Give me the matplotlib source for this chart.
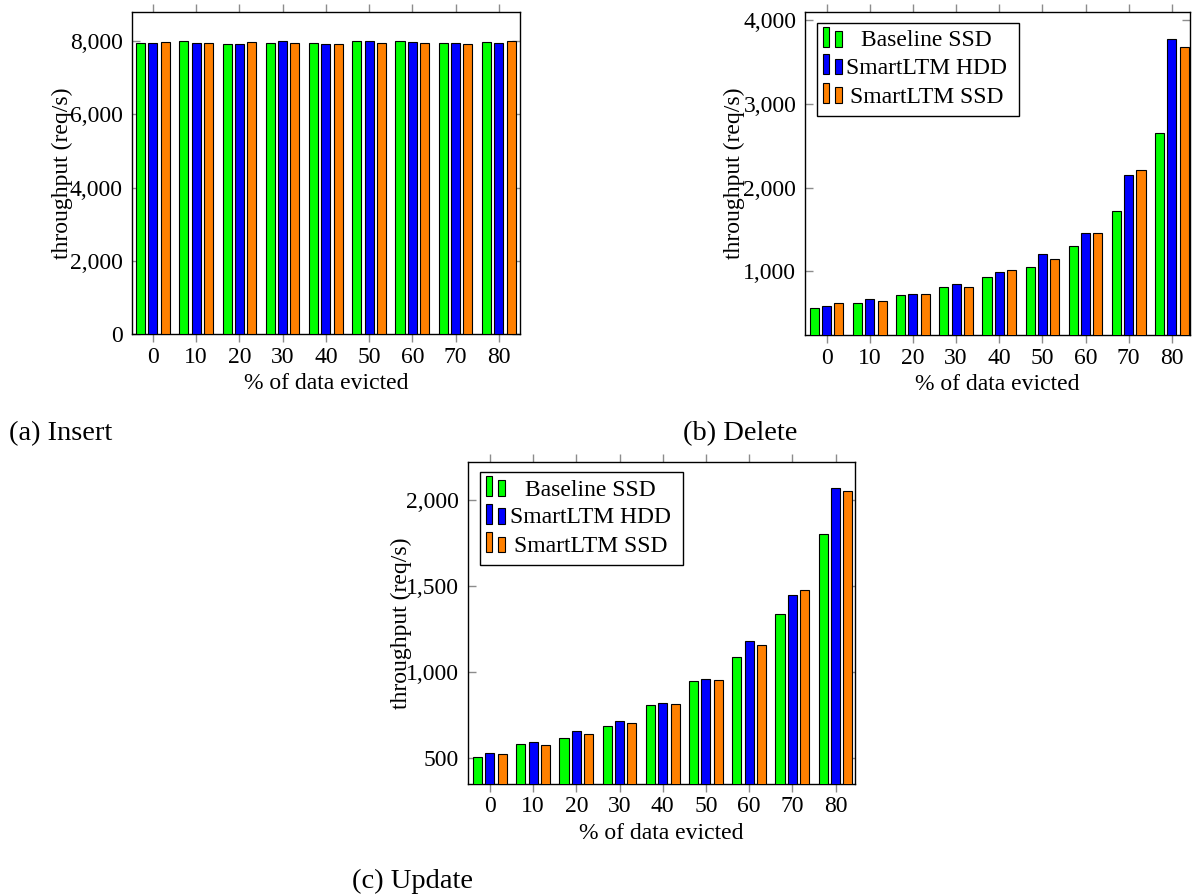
"""Throughput vs % of data evicted for insert / delete / update (three bar panels)."""

import matplotlib
matplotlib.use("Agg")
import matplotlib.pyplot as plt
from matplotlib.patches import Rectangle
from matplotlib.ticker import FuncFormatter
import numpy as np

plt.rcParams["font.family"] = ["Liberation Serif", "DejaVu Serif"]

# ─── Data ────────────────────────────────────────────────────────────────────

evicted = [0, 10, 20, 30, 40, 50, 60, 70, 80]
series = ["Baseline SSD", "SmartLTM HDD", "SmartLTM SSD"]
colors = ["#00ff00", "#0000ff", "#ff8000"]

insert_baseline_ssd = [7936, 8000, 7918, 7936, 7945, 7990, 8000, 7936, 7982]
insert_smartltm_hdd = [7936, 7936, 7927, 8000, 7918, 7990, 7982, 7936, 7936]
insert_smartltm_ssd = [7964, 7936, 7973, 7945, 7927, 7936, 7955, 7918, 8009]

delete_baseline_ssd = [558, 622, 713, 809, 932, 1056, 1298, 1716, 2647]
delete_smartltm_hdd = [586, 670, 729, 845, 988, 1211, 1454, 2146, 3770]
delete_smartltm_ssd = [618, 650, 733, 817, 1012, 1143, 1462, 2214, 3678]

update_baseline_ssd = [506, 581, 616, 688, 810, 947, 1087, 1340, 1803]
update_smartltm_hdd = [531, 597, 661, 715, 819, 961, 1179, 1450, 2068]
update_smartltm_ssd = [527, 575, 639, 707, 816, 953, 1160, 1479, 2050]

W, H = 1193, 894
BAR_W = 2.1
SHIFT = 2.85
TICK_GRAY = "#8c8c8c"
FS = 17


def px_rect(l, t, r, b):
    return [l / W, 1 - b / H, (r - l) / W, (b - t) / H]


def draw_legend(ax):
    """pgfplots-style ybar legend: two small bars per entry, centred labels."""
    ax_h = ax.get_position().height * H
    ax.add_patch(Rectangle((0.030, 0.679), 0.525, 0.289, transform=ax.transAxes,
                           facecolor="white", edgecolor="black", lw=1.0, zorder=5))
    for yc, label, c in zip([0.912, 0.826, 0.737], series, colors):
        ax.add_patch(Rectangle((0.0455, yc - 6 / ax_h), 0.0156, 20 / ax_h,
                               transform=ax.transAxes, facecolor=c,
                               edgecolor="black", lw=0.8, zorder=6))
        ax.add_patch(Rectangle((0.0767, yc - 6 / ax_h), 0.0174, 15.7 / ax_h,
                               transform=ax.transAxes, facecolor=c,
                               edgecolor="black", lw=0.8, zorder=6))
        ax.text(0.316, yc, label, transform=ax.transAxes, ha="center",
                va="center", fontsize=FS, zorder=7)


def bar_panel(ax, values, ylim, yticks, xlim, ylab_x, legend=False):
    x = np.array(evicted, dtype=float)
    for k, (vals, c) in enumerate(zip(values, colors)):
        ax.bar(x + (k - 1) * SHIFT, vals, width=BAR_W, color=c,
               edgecolor="black", linewidth=0.8, zorder=3)
    ax.set_xlim(*xlim)
    ax.set_ylim(*ylim)
    ax.set_xticks(evicted)
    ax.set_yticks(yticks)
    ax.yaxis.set_major_formatter(FuncFormatter(lambda v, _: f"{v:,.0f}"))
    ax.tick_params(axis="x", direction="out", top=True, length=5.5, width=1.0,
                   color=TICK_GRAY, labelsize=FS, pad=3.5)
    ax.tick_params(axis="y", direction="in", right=True, length=5.5, width=1.0,
                   color=TICK_GRAY, labelsize=FS, pad=6.5)
    for s in ax.spines.values():
        s.set_linewidth(1.0)
    ax.set_xlabel("% of data evicted", fontsize=FS, va="baseline")
    ax.xaxis.set_label_coords(0.5, -55 / (ax.get_position().height * H))
    ax.set_ylabel("throughput (req/s)", fontsize=FS, va="center")
    ax.yaxis.set_label_coords(ylab_x, 0.5)
    if legend:
        draw_legend(ax)


fig = plt.figure(figsize=(W / 100, H / 100), dpi=100)

ax_a = fig.add_axes(px_rect(131.7, 12, 520, 334.3))
bar_panel(ax_a, [insert_baseline_ssd, insert_smartltm_hdd, insert_smartltm_ssd],
          (0, 8790), [0, 2000, 4000, 6000, 8000], (-4.9, 84.9), -0.1795)

ax_b = fig.add_axes(px_rect(805.3, 12.3, 1190, 335))
bar_panel(ax_b, [delete_baseline_ssd, delete_smartltm_hdd, delete_smartltm_ssd],
          (240, 4092), [1000, 2000, 3000, 4000], (-4.95, 84.2), -0.183, legend=True)

ax_c = fig.add_axes(px_rect(468.3, 461.7, 855, 784))
bar_panel(ax_c, [update_baseline_ssd, update_smartltm_hdd, update_smartltm_ssd],
          (351, 2223), [500, 1000, 1500, 2000], (-5, 84.5), -0.174, legend=True)

fig.text(9.3 / W, 1 - 440 / H, "(a) Insert", fontsize=20.5, va="baseline")
fig.text(683 / W, 1 - 440 / H, "(b) Delete", fontsize=20.5, va="baseline")
fig.text(352 / W, 1 - 888 / H, "(c) Update", fontsize=20.5, va="baseline")

fig.savefig("out.png", dpi=100)
